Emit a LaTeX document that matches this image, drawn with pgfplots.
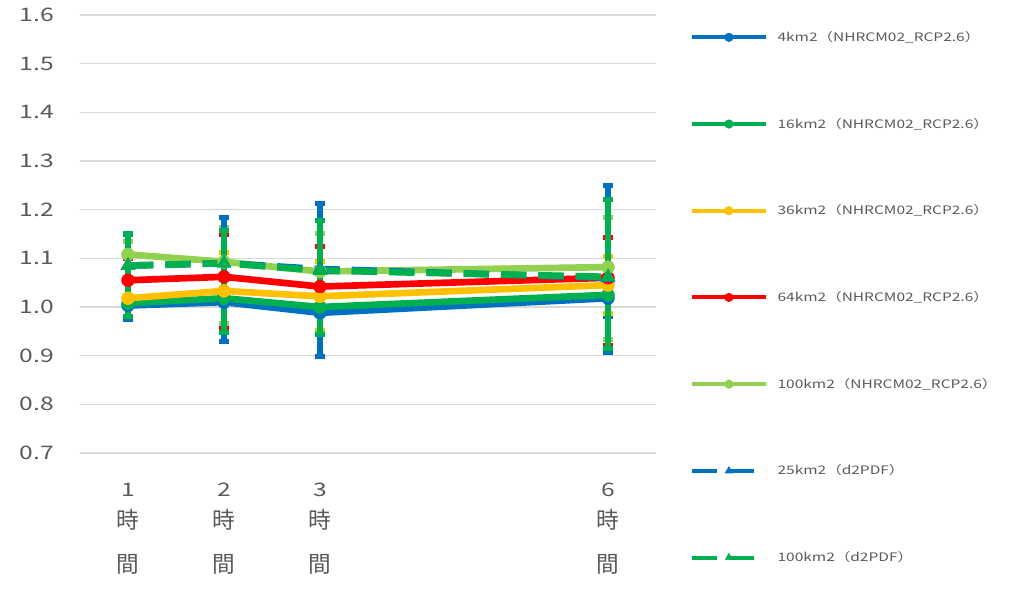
\documentclass[border=0pt]{standalone}
\usepackage{fontspec}
\setmainfont[FakeStretch=1.32]{Noto Sans CJK JP}
\newfontfamily\cjkfont{Noto Sans CJK JP}
\usepackage{pgfplots}
\pgfplotsset{compat=1.18}
\definecolor{cblue}{HTML}{0070C0}
\definecolor{cgreen}{HTML}{00B050}
\definecolor{cyellow}{HTML}{FFC000}
\definecolor{cred}{HTML}{FF0000}
\definecolor{clgreen}{HTML}{92D050}
\definecolor{tgray}{HTML}{595959}
\definecolor{gridc}{HTML}{D9D9D9}
\pgfplotsset{
  eb/.style={error bars/.cd, y dir=both, y explicit, error mark=|,
    error bar style={line width=4pt, #1, solid},
    error mark options={line width=3.75pt, mark size=4pt, #1, solid}},
  ser/.style={#1, line width=5pt, mark=*, mark size=4.8pt,
    mark options={solid, draw=#1, fill=#1, line width=0.4pt}},
  dser/.style={#1, line width=5pt, dash pattern=on 19pt off 9pt, mark=triangle*, mark size=6pt,
    mark options={solid, draw=#1, fill=#1, line width=0.4pt}},
}
\newcommand{\tl}[1]{#1\\[-9pt]{\fontsize{17}{20}\selectfont\cjkfont 時}\\{\fontsize{17}{20}\selectfont\cjkfont 間}}
\begin{document}
\begin{tikzpicture}
\useasboundingbox (-60pt,-108pt) rectangle (698.25pt,339.75pt);
\begin{axis}[
  scale only axis, width=432pt, height=328.5pt,
  xmin=0.5, xmax=6.5, ymin=0.7, ymax=1.6,
  axis line style={draw=none},
  clip=false,
  ytick={0.7,0.8,0.9,1.0,1.1,1.2,1.3,1.4,1.5,1.6},
  ymajorgrids, grid style={gridc, line width=0.9pt},
  major tick length=0pt,
  xtick={1,2,3,6},
  xticklabels={{\tl{1}},{\tl{2}},{\tl{3}},{\tl{6}}},
  xticklabel style={align=center, font=\fontsize{14}{33}\selectfont, text=tgray, yshift=-19pt},
  yticklabel style={font=\fontsize{14}{18}\selectfont, text=tgray, xshift=-16pt,
     /pgf/number format/.cd, fixed, fixed zerofill, precision=1},
  /pgf/number format/assume math mode=true,
  legend style={at={(rel axis cs:1,1)}, anchor=north west, xshift=25pt, yshift=-10pt,
     draw=none, fill=none, font=\fontsize{8.8}{11}\selectfont, text=tgray,
     row sep=52pt, inner sep=0pt, nodes={inner sep=2pt},
     /tikz/every odd column/.append style={column sep=5pt}},
  legend cell align=left,
  legend image code/.code={\draw[#1, line width=3pt, mark size=3.2pt, mark repeat=2, mark phase=2] plot coordinates {(0pt,0pt) (28pt,0pt) (56pt,0pt)};},
]
\addplot[ser=cblue, eb=cblue] coordinates {
 (1,1.003) +=(0,0) -=(0,0)
 (2,1.010) +=(0,0) -=(0,0)
 (3,0.988) +=(0,0) -=(0,0)
 (6,1.018) +=(0,0.03) -=(0,0.038)
};
\addlegendentry{4km2（NHRCM02\_RCP2.6）}
\addplot[ser=cgreen] coordinates {(1,1.008) (2,1.018) (3,1.000) (6,1.025)};
\addlegendentry{16km2（NHRCM02\_RCP2.6）}
\addplot[ser=cyellow, eb=cyellow] coordinates {
 (1,1.018) +=(0,0.04) -=(0,0.04)
 (2,1.033) +=(0,0.08) -=(0,0.08)
 (3,1.022) +=(0,0.071) -=(0,0.07)
 (6,1.045) +=(0,0.058) -=(0,0.058)
};
\addlegendentry{36km2（NHRCM02\_RCP2.6）}
\addplot[ser=cred, eb=cred] coordinates {
 (1,1.055) +=(0,0.045) -=(0,0.05)
 (2,1.062) +=(0,0.088) -=(0,0.105)
 (3,1.042) +=(0,0.082) -=(0,0.095)
 (6,1.060) +=(0,0.082) -=(0,0.14)
};
\addlegendentry{64km2（NHRCM02\_RCP2.6）}
\addplot[ser=clgreen, eb=clgreen] coordinates {
 (1,1.108) +=(0,0.027) -=(0,0.10)
 (2,1.093) +=(0,0.07) -=(0,0.126)
 (3,1.073) +=(0,0.079) -=(0,0.125)
 (6,1.082) +=(0,0.101) -=(0,0.149)
};
\addlegendentry{100km2（NHRCM02\_RCP2.6）}
\addplot[dser=cblue, eb=cblue] coordinates {
 (1,1.085) +=(0,0.065) -=(0,0.11)
 (2,1.090) +=(0,0.093) -=(0,0.16)
 (3,1.078) +=(0,0.135) -=(0,0.18)
 (6,1.060) +=(0,0.19) -=(0,0.154)
};
\addlegendentry{25km2（d2PDF）}
\addplot[dser=cgreen, eb=cgreen] coordinates {
 (1,1.085) +=(0,0.067) -=(0,0.105)
 (2,1.090) +=(0,0.068) -=(0,0.143)
 (3,1.075) +=(0,0.103) -=(0,0.132)
 (6,1.062) +=(0,0.158) -=(0,0.147)
};
\addlegendentry{100km2（d2PDF）}
\end{axis}
\end{tikzpicture}
\end{document}
